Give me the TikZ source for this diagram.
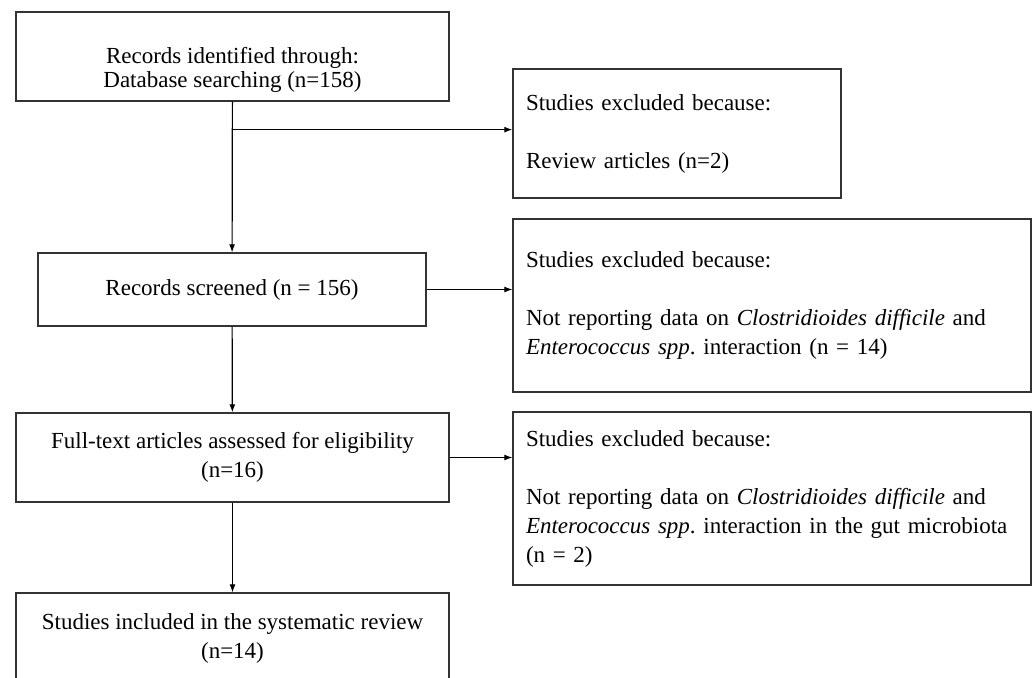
\documentclass[tikz,border=0pt]{standalone}
\usepackage{fontspec}
\setmainfont{Liberation Serif}
\usetikzlibrary{arrows.meta}

\begin{document}
\begin{tikzpicture}[x=1pt,y=-1pt,->,>={Latex[length=8pt,width=6pt]},line width=1.2pt,
  box/.style={draw=black!80,-,line width=1.3pt,rectangle,align=center,inner sep=0pt,font=\fontsize{23}{29}\selectfont},
  excl box/.style={box,align=left,inner xsep=13pt,inner ysep=0pt}]

  \useasboundingbox (0,0) rectangle (1032,677);

  % left column
  \node[box,minimum width=433pt,minimum height=89pt,font=\fontsize{23}{24}\selectfont] (rec) at (232.5,56.5)
    {\mbox{}\\[18pt]Records identified through:\\Database searching (n=158)};
  \node[box,minimum width=388pt,minimum height=73pt] (screened) at (232,289.5) {Records screened (n = 156)};
  \node[box,minimum width=433pt,minimum height=89pt] (full) at (232.5,457.5)
    {Full-text articles assessed for eligibility\\(n=16)};
  \node[box,minimum width=433pt,minimum height=90pt] (incl) at (232.5,638)
    {Studies included in the systematic review\\(n=14)};

  % exclusions
  \node[excl box,text width=302pt,minimum height=129pt] (excl1) at (677,133.5)
    {Studies excluded because:\\[29pt]Review articles (n=2)};
  \node[excl box,text width=492pt,minimum height=173pt] (excl2) at (772,305.5)
    {Studies excluded because:\\[29pt]Not reporting data on \textit{Clostridioides difficile} and\\
     \textit{Enterococcus spp}.\ interaction (n = 14)};
  \node[excl box,text width=492pt,minimum height=173pt] (excl3) at (772,498.5)
    {Studies excluded because:\\[29pt]Not reporting data on \textit{Clostridioides difficile} and\\
     \textit{Enterococcus spp}.\ interaction in the gut microbiota\\(n = 2)};

  \coordinate (fork) at ([yshift=-28pt]rec.south);

  \path (rec) edge (screened)
        (screened) edge (full)
        (full) edge (incl);
  \draw (fork) -- (fork -| excl1.west);
  \draw (screened.east) -- (screened.east -| excl2.west);
  \draw (full.east) -- (full.east -| excl3.west);
\end{tikzpicture}
\end{document}
